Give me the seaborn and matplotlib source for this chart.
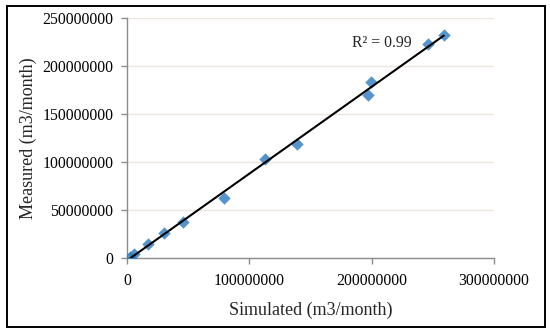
import numpy as np
import pandas as pd
import matplotlib.pyplot as plt
import seaborn as sns
from matplotlib.patches import Rectangle

# values (m3/month)
simulated = [2.5e6, 5.5e6, 17e6, 30.5e6, 45.5e6, 79e6, 113e6, 139e6, 197e6, 199.5e6, 246e6, 259e6]
measured = [1e6, 4e6, 14.5e6, 26e6, 37.5e6, 62.5e6, 103e6, 118.5e6, 169.5e6, 183e6, 223.5e6, 232e6]
x_ticks = [0, 100000000, 200000000, 300000000]
y_ticks = [0, 50000000, 100000000, 150000000, 200000000, 250000000]
r2_label = "R² = 0.99"

df = pd.DataFrame({"Simulated": simulated, "Measured": measured})

sns.set_style("white")
plt.rcParams['font.family'] = ['Liberation Serif', 'DejaVu Serif']

fig = plt.figure(figsize=(5.5, 3.35), dpi=100)
ax = fig.add_axes([0.231, 0.23, 0.667, 0.716])

sns.regplot(data=df, x="Simulated", y="Measured", ax=ax, ci=None, truncate=True,
            marker="D",
            scatter_kws={"color": "#2a7bbf", "s": 40, "linewidths": 0, "zorder": 3},
            line_kws={"color": "black", "linewidth": 1.5, "zorder": 4})

ax.set_xlim(0, 300000000)
ax.set_ylim(0, 250000000)
ax.set_xticks(x_ticks)
ax.set_yticks(y_ticks)
ax.set_xticklabels([str(v) for v in x_ticks])
ax.set_yticklabels([str(v) for v in y_ticks])
ax.yaxis.grid(True, color="#ece6dc", linewidth=1)
ax.set_axisbelow(True)

for s in ["top", "right"]:
    ax.spines[s].set_visible(False)
for s in ["left", "bottom"]:
    ax.spines[s].set_color("#8c8c8c")
    ax.spines[s].set_linewidth(1)
ax.tick_params(axis="both", labelsize=11.3, colors="#8c8c8c", labelcolor="black",
               length=4, width=1, direction="out", left=True, bottom=True)
ax.tick_params(axis="x", pad=7)
ax.tick_params(axis="y", pad=6)

ax.set_xlabel("Simulated (m3/month)", fontsize=13, labelpad=9)
ax.set_ylabel("Measured (m3/month)", fontsize=13, labelpad=4)

ax.text(208000000, 224000000, r2_label, fontsize=11.3, ha="center", va="center")

fig.patches.append(Rectangle((7 / 550, 8 / 335), 538 / 550, 321 / 335,
                             transform=fig.transFigure, fill=False,
                             edgecolor="black", linewidth=1.4))

plt.savefig("out.png", dpi=100)
